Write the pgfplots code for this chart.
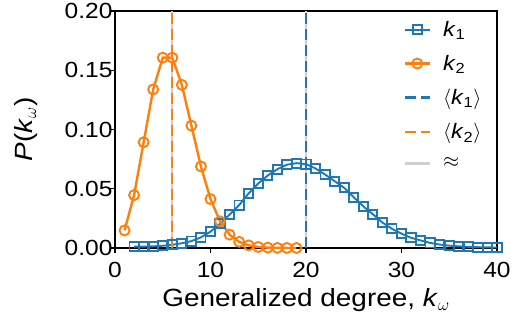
\documentclass[border=0pt]{standalone}
\usepackage{pgfplots}
\pgfplotsset{compat=1.18}
\usepackage{fontspec}
\setmainfont{Liberation Sans}[FakeStretch=1.12]
\definecolor{tabblue}{HTML}{1F77B4}
\definecolor{taborange}{HTML}{FF7F0E}
\definecolor{lgray}{HTML}{D0D0D0}
\newcommand{\kk}[1]{\textit{k}\textsubscript{#1}}
\begin{document}
\begin{tikzpicture}
\begin{axis}[
  scale only axis, width=382bp, height=237bp,
  xmin=0, xmax=40, ymin=0, ymax=0.2,
  xtick={0,10,20,30,40},
  ytick={0,0.05,0.1,0.15,0.2},
  scaled y ticks=false,
  /pgf/number format/assume math mode=true,
  yticklabel style={/pgf/number format/fixed, /pgf/number format/fixed zerofill, /pgf/number format/precision=2, xshift=6bp},
  xticklabel style={yshift=-6bp},
  ticklabel style={font=\fontsize{22}{24}\selectfont},
  tick align=outside, tick pos=left,
  major tick length=5bp,
  every tick/.style={black, line width=1.2bp},
  axis line style={line width=1.4bp},
  xlabel={Generalized degree, \textit{k}$_{\omega}$},
  ylabel={\textit{P}(\textit{k}$_{\omega}$)},
  label style={font=\fontsize{25}{27}\selectfont},
  xlabel style={at={(axis description cs:0.5,-0.248)}, anchor=base},
  ylabel style={at={(axis description cs:-0.233,0.5)}, anchor=center},
  legend cell align=left,
  legend style={draw=none, fill=none, at={(axis description cs:0.755,0.966)}, anchor=north west,
    font=\fontsize{21}{21}\selectfont, row sep=13.3bp, inner sep=0pt,
    nodes={inner sep=2bp},
    /tikz/every odd column/.append style={column sep=10bp}},
  legend image code/.code={\draw[mark repeat=2,mark phase=2] plot coordinates {(0bp,0bp) (12.5bp,0bp) (25bp,0bp)};},
]
% grey approximation lines behind the means
\addplot[lgray, line width=2.4bp, forget plot] coordinates {(20,0) (20,0.2)};
\addplot[lgray, line width=2.4bp, forget plot] coordinates {(6,0) (6,0.2)};
% k1
\addplot[tabblue, line width=1.9bp, mark=square, mark size=4.6bp, mark options={fill=white, solid, line width=1.9bp}] coordinates {
(2,0.0011) (3,0.0012) (4,0.0014) (5,0.0019) (6,0.0027) (7,0.0040) (8,0.0058) (9,0.0090)
(10,0.0138) (11,0.0205) (12,0.0282) (13,0.0362) (14,0.0462) (15,0.0545) (16,0.0612)
(17,0.0665) (18,0.0703) (19,0.0716) (20,0.0708) (21,0.0671) (22,0.0620) (23,0.0564)
(24,0.0508) (25,0.0428) (26,0.0352) (27,0.0285) (28,0.0215) (29,0.0162) (30,0.0121)
(31,0.0086) (32,0.0064) (33,0.0043) (34,0.0029) (35,0.0020) (36,0.0014) (37,0.0010)
(38,0.0007) (39,0.0005) (40,0.0004)
};
\addlegendentry{\kk{1}}
% k2
\addplot[taborange, line width=2.4bp, mark=o, mark size=5bp, mark options={fill=white, solid, line width=1.9bp}] coordinates {
(1,0.01487) (2,0.04462) (3,0.08924) (4,0.13385) (5,0.16062) (6,0.16062) (7,0.13768)
(8,0.10326) (9,0.06884) (10,0.04130) (11,0.02253) (12,0.01126) (13,0.00520) (14,0.00223)
(15,0.00089) (16,0.00033) (17,0.00012) (18,0.00004) (19,0.00001)
};
\addlegendentry{\kk{2}}
\addplot[tabblue, line width=2.4bp, dash pattern=on 11bp off 5bp] coordinates {(20,0) (20,0.2)};
\addlegendentry{$\langle$\kk{1}$\rangle$}
\addplot[taborange, line width=2.4bp, dash pattern=on 11bp off 5bp] coordinates {(6,0) (6,0.2)};
\addlegendentry{$\langle$\kk{2}$\rangle$}
\addlegendimage{lgray, line width=2.4bp}
\addlegendentry{$\approx$}
\end{axis}
\pgfresetboundingbox
\path ([xshift=-115bp,yshift=-72bp]current axis.south west) rectangle ([xshift=17bp,yshift=11bp]current axis.north east);
\end{tikzpicture}
\end{document}
